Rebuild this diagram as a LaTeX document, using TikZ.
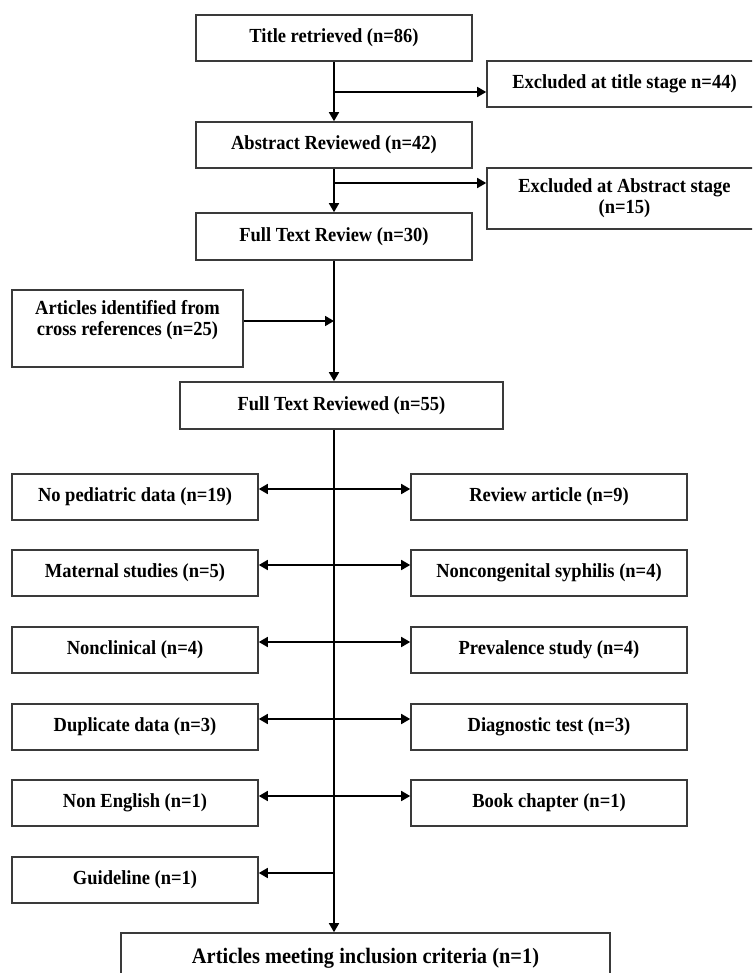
\documentclass[tikz,border=0pt]{standalone}
\usepackage{fontspec}
\setmainfont{Liberation Serif}
\usetikzlibrary{arrows.meta}
\newcommand{\sq}[1]{\scalebox{1}[1.08]{#1}}
\definecolor{boxline}{HTML}{3A3A3A}
\begin{document}
\begin{tikzpicture}[x=1pt,y=-1pt,
  box/.style={draw=boxline,line width=1.6pt,inner sep=0pt,align=center,
    font=\bfseries\fontsize{18.5}{21}\selectfont},
  lbl/.style={inner sep=0pt,align=center,
    font=\bfseries\fontsize{18.5}{21}\selectfont},
  arr/.style={line width=1.7pt,-{Triangle[length=9pt,width=10pt]}},
  darr/.style={line width=1.7pt,{Triangle[length=9pt,width=10pt]}-{Triangle[length=9pt,width=10pt]}},
  lbox/.style={box,minimum width=246pt,minimum height=46pt},
  rbox/.style={box,minimum width=276pt,minimum height=46pt}]
\useasboundingbox (0,0) rectangle (752,973);
\clip (0,0) rectangle (752,973);

% top chain
\node[box,minimum width=276pt,minimum height=46pt] (title) at (334,38) {\sq{Title retrieved (n=86)}};
\node[box,minimum width=275pt,minimum height=46pt] (ex1) at (624.5,84) {\sq{Excluded at title stage n=44)}};
\node[box,minimum width=276pt,minimum height=46pt] (abs) at (334,145) {\sq{Abstract Reviewed (n=42)}};
\node[box,minimum width=275pt,minimum height=61pt] (ex2) at (624.5,198.5) {\sq{Excluded at Abstract stage}\\\sq{(n=15)}};
\node[box,minimum width=276pt,minimum height=47pt] (ftr) at (334,236.5) {\sq{Full Text Review (n=30)}};
\node[box,minimum width=231pt,minimum height=77pt] (xref) at (127.5,328.5) {};
\node[lbl] (xreft) at (127.5,320.5) {\sq{Articles identified from}\\\sq{cross references (n=25)}};
\node[box,minimum width=323pt,minimum height=47pt] (ftr55) at (341.5,405.5) {\sq{Full Text Reviewed (n=55)}};

% exclusion rows
\node[lbox] (l1) at (135,497) {\sq{No pediatric data (n=19)}};
\node[rbox] (r1) at (549,497) {\sq{Review article (n=9)}};
\node[lbox] (l2) at (135,573) {\sq{Maternal studies (n=5)}};
\node[rbox] (r2) at (549,573) {\sq{Noncongenital syphilis (n=4)}};
\node[lbox] (l3) at (135,650) {\sq{Nonclinical (n=4)}};
\node[rbox] (r3) at (549,650) {\sq{Prevalence study (n=4)}};
\node[lbox] (l4) at (135,727) {\sq{Duplicate data (n=3)}};
\node[rbox] (r4) at (549,727) {\sq{Diagnostic test (n=3)}};
\node[lbox] (l5) at (135,803) {\sq{Non English (n=1)}};
\node[rbox] (r5) at (549,803) {\sq{Book chapter (n=1)}};
\node[lbox] (l6) at (135,880) {\sq{Guideline (n=1)}};

\node[box,minimum width=489pt,minimum height=50pt,font=\bfseries\fontsize{20.4}{24}\selectfont] (art) at (365.5,958) {\sq{Articles meeting inclusion criteria (n=1)}};

% junction coordinates on the spine x=334
\coordinate (j1) at (334,92);
\coordinate (j2) at (334,183);
\coordinate (j3) at (334,321);
\coordinate (k1) at (334,489);
\coordinate (k2) at (334,565);
\coordinate (k3) at (334,642);
\coordinate (k4) at (334,719);
\coordinate (k5) at (334,796);
\coordinate (k6) at (334,873);

% connectors
\draw[arr] (title.south) -- (abs.north);
\draw[arr] (j1) -- (j1 -| ex1.west);
\draw[arr] (abs.south) -- (ftr.north);
\draw[arr] (j2) -- (j2 -| ex2.west);
\draw[arr] (ftr.south) -- (ftr.south |- ftr55.north);
\draw[arr] (j3 -| xref.east) -- (j3);
\draw[arr] (ftr.south |- ftr55.south) -- (ftr.south |- art.north);
\draw[darr] (k1 -| l1.east) -- (k1 -| r1.west);
\draw[darr] (k2 -| l2.east) -- (k2 -| r2.west);
\draw[darr] (k3 -| l3.east) -- (k3 -| r3.west);
\draw[darr] (k4 -| l4.east) -- (k4 -| r4.west);
\draw[darr] (k5 -| l5.east) -- (k5 -| r5.west);
\draw[arr] (k6) -- (k6 -| l6.east);
\end{tikzpicture}
\end{document}
